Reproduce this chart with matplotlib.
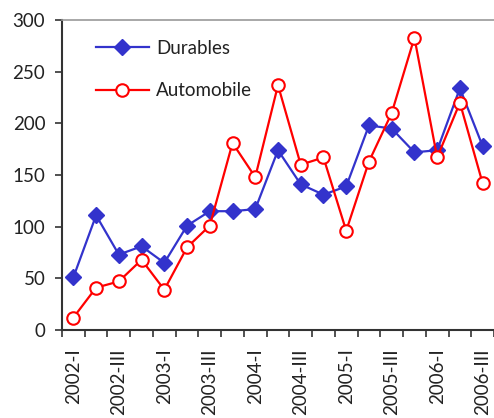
import matplotlib
matplotlib.use("Agg")
import matplotlib.pyplot as plt
import numpy as np

quarters = ["2002-I", "2002-II", "2002-III", "2002-IV",
            "2003-I", "2003-II", "2003-III", "2003-IV",
            "2004-I", "2004-II", "2004-III", "2004-IV",
            "2005-I", "2005-II", "2005-III", "2005-IV",
            "2006-I", "2006-II", "2006-III"]
durables = [51, 111, 73, 81, 65, 101, 115, 115, 117, 174, 141, 131, 139,
            198, 195, 172, 174, 234, 178]
automobile = [12, 41, 47, 68, 39, 80, 101, 181, 148, 237, 160, 167, 96,
              163, 210, 283, 167, 220, 142]

plt.rcParams['font.family'] = ['Lato', 'DejaVu Sans']

fig = plt.figure(figsize=(4.94, 4.18), dpi=100)
ax = fig.add_axes([0.1255, 0.2105, 0.8745, 0.7415])

x = np.arange(len(quarters))
ax.plot(x, durables, color='#3333CC', lw=1.6, marker='D', markersize=8.5,
        markerfacecolor='#3333CC', markeredgecolor='#3333CC', label='Durables')
ax.plot(x, automobile, color='#FF0000', lw=1.6, marker='o', markersize=9,
        markerfacecolor='white', markeredgecolor='#FF0000', markeredgewidth=1.5,
        label='Automobile')

ax.set_xlim(-0.5, len(quarters) - 0.5)
ax.set_ylim(0, 300)
ax.set_yticks(np.arange(0, 301, 50))

ax.set_xticks(x[::2])
ax.set_xticklabels(quarters[::2], rotation=90, va='top', ha='center')
ax.set_xticks(np.arange(-0.5, len(quarters), 1.0), minor=True)
ax.tick_params(axis='x', which='major', length=0, pad=13, labelsize=13.5, colors='#222222')
ax.tick_params(axis='x', which='minor', length=5, width=1.2, color='#333333', direction='out')
ax.tick_params(axis='y', length=5, width=1.2, pad=7, labelsize=13.5, colors='#222222')
ax.tick_params(axis='y', color='#333333')

for s in ['left', 'bottom']:
    ax.spines[s].set_color('#333333')
    ax.spines[s].set_linewidth(1.5)
ax.spines['top'].set_color('#999999')
ax.spines['top'].set_linewidth(1.2)
ax.spines['right'].set_visible(False)

leg = ax.legend(loc='upper left', bbox_to_anchor=(0.04, 0.99), frameon=False,
                fontsize=13.5, handlelength=2.8, labelspacing=1.35, handletextpad=0.4)
for t in leg.get_texts():
    t.set_color('#222222')

fig.savefig('out.png', dpi=100)
